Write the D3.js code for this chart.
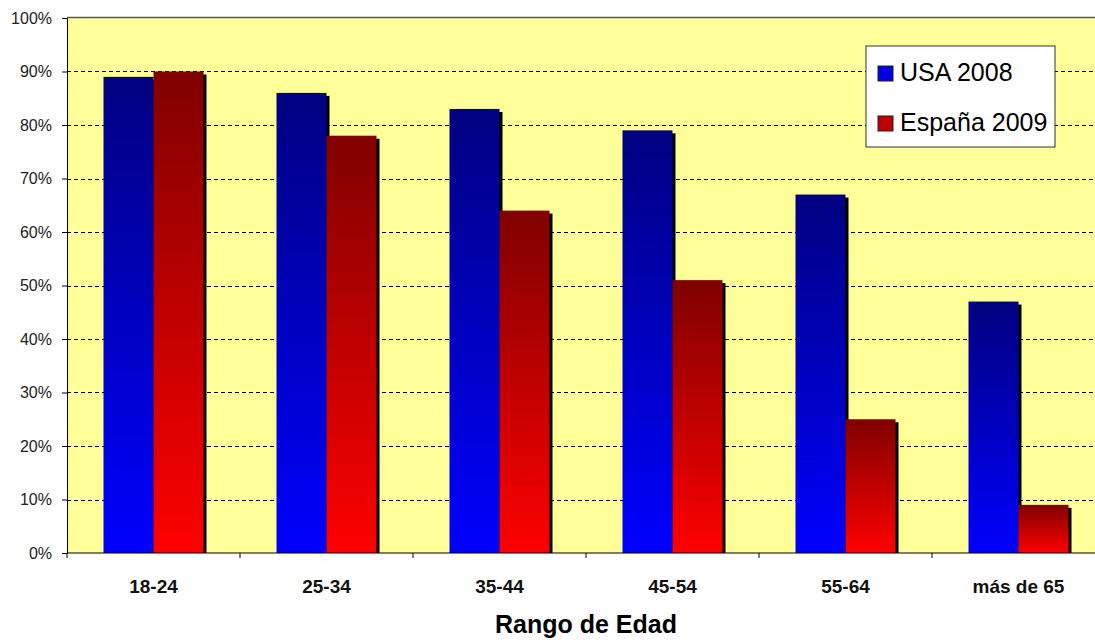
<!DOCTYPE html>
<html>
<head>
<meta charset="utf-8">
<script src="https://cdn.jsdelivr.net/npm/d3@7"></script>
<style>
  body { margin: 0; background: #fff; }
  svg { display: block; font-family: Arial, "Liberation Sans", sans-serif; }
</style>
</head>
<body>
<svg id="chart" width="1095" height="642"></svg>
<script>
// datos
var categorias = ["18-24", "25-34", "35-44", "45-54", "55-64", "más de 65"];
var usa2008 = [89, 86, 83, 79, 67, 47];
var espana2009 = [90, 78, 64, 51, 25, 9];
var series = ["USA 2008", "España 2009"];
var yTicks = [0, 10, 20, 30, 40, 50, 60, 70, 80, 90, 100];

var svg = d3.select("#chart");
var m = {left: 67, top: 18, right: 1105, bottom: 553};

var x = d3.scaleBand().domain(categorias).range([m.left, m.right]);
var y = d3.scaleLinear().domain([0, 100]).range([m.bottom, m.top]);
var barW = 50;

// gradientes
var defs = svg.append("defs");
function grad(id, top, bottom) {
  var g = defs.append("linearGradient").attr("id", id)
    .attr("x1", 0).attr("y1", 0).attr("x2", 0).attr("y2", 1);
  g.append("stop").attr("offset", "0%").attr("stop-color", top);
  g.append("stop").attr("offset", "100%").attr("stop-color", bottom);
}
grad("gUsa", "#000080", "#0000ff");
grad("gEsp", "#800000", "#ff0000");

// fondo
svg.append("rect").attr("x", m.left).attr("y", m.top)
  .attr("width", m.right - m.left).attr("height", m.bottom - m.top)
  .attr("fill", "#ffff99");
svg.append("line").attr("x1", m.left).attr("x2", m.right)
  .attr("y1", m.top - 0.5).attr("y2", m.top - 0.5)
  .attr("stroke", "#555").attr("stroke-width", 1.5);

// rejilla
svg.append("g").selectAll("line")
  .data(yTicks.filter(function(d){ return d > 0 && d < 100; }))
  .enter().append("line")
  .attr("x1", m.left).attr("x2", m.right)
  .attr("y1", function(d){ return Math.round(y(d)) + 0.5; })
  .attr("y2", function(d){ return Math.round(y(d)) + 0.5; })
  .attr("stroke", "#000").attr("stroke-dasharray", "4,3");

// barras
function barras(vals, fill, off) {
  var g = svg.append("g");
  var data = categorias.map(function(c, i){ return {c: c, v: vals[i]}; });
  g.selectAll("rect.sombra").data(data).enter().append("rect")
    .attr("x", function(d){ return x(d.c) + x.bandwidth() / 2 + off + 3; })
    .attr("y", function(d){ return y(d.v) + 3; })
    .attr("width", barW)
    .attr("height", function(d){ return m.bottom - y(d.v) - 3; })
    .attr("fill", "#000");
  g.selectAll("rect.barra").data(data).enter().append("rect")
    .attr("x", function(d){ return x(d.c) + x.bandwidth() / 2 + off; })
    .attr("y", function(d){ return y(d.v); })
    .attr("width", barW)
    .attr("height", function(d){ return m.bottom - y(d.v); })
    .attr("fill", fill);
}
barras(usa2008, "url(#gUsa)", -barW);
barras(espana2009, "url(#gEsp)", 0);

// eje y
var yAxis = d3.axisLeft(y).tickValues(yTicks).tickSize(5)
  .tickFormat(function(d){ return d + "%"; });
var gy = svg.append("g").attr("transform", "translate(" + m.left + ",0)").call(yAxis);
gy.attr("font-size", null).attr("font-family", null);
gy.select(".domain").attr("stroke", "#000");
gy.selectAll("text").style("font-size", "16px").attr("fill", "#222")
  .attr("x", -15);

// eje x
var gx = svg.append("g").attr("transform", "translate(0," + m.bottom + ")");
gx.append("line").attr("x1", m.left).attr("x2", m.right).attr("stroke", "#000");
gx.selectAll("line.tk").data(categorias).enter().append("line")
  .attr("x1", function(d){ return x(d); }).attr("x2", function(d){ return x(d); })
  .attr("y1", 0).attr("y2", 5).attr("stroke", "#000");
gx.selectAll("text").data(categorias).enter().append("text")
  .attr("x", function(d){ return x(d) + x.bandwidth() / 2; })
  .attr("y", 40).attr("text-anchor", "middle")
  .style("font-size", "19px").attr("font-weight", "bold").attr("fill", "#111")
  .text(function(d){ return d; });

svg.append("text").attr("x", 586).attr("y", 633).attr("text-anchor", "middle")
  .style("font-size", "25px").attr("font-weight", "bold").attr("fill", "#000")
  .text("Rango de Edad");

// leyenda
var lg = svg.append("g").attr("transform", "translate(866,46)");
lg.append("rect").attr("width", 189).attr("height", 101)
  .attr("fill", "#fff").attr("stroke", "#333");
var colores = ["#0000e0", "#c00000"];
series.forEach(function(s, i){
  var yy = 35 + i * 50;
  lg.append("rect").attr("x", 12).attr("y", yy - 15).attr("width", 15).attr("height", 15)
    .attr("fill", colores[i]).attr("stroke", "#222");
  lg.append("text").attr("x", 34).attr("y", yy)
    .style("font-size", "25px").attr("fill", "#000").text(s);
});
</script>
</body>
</html>
